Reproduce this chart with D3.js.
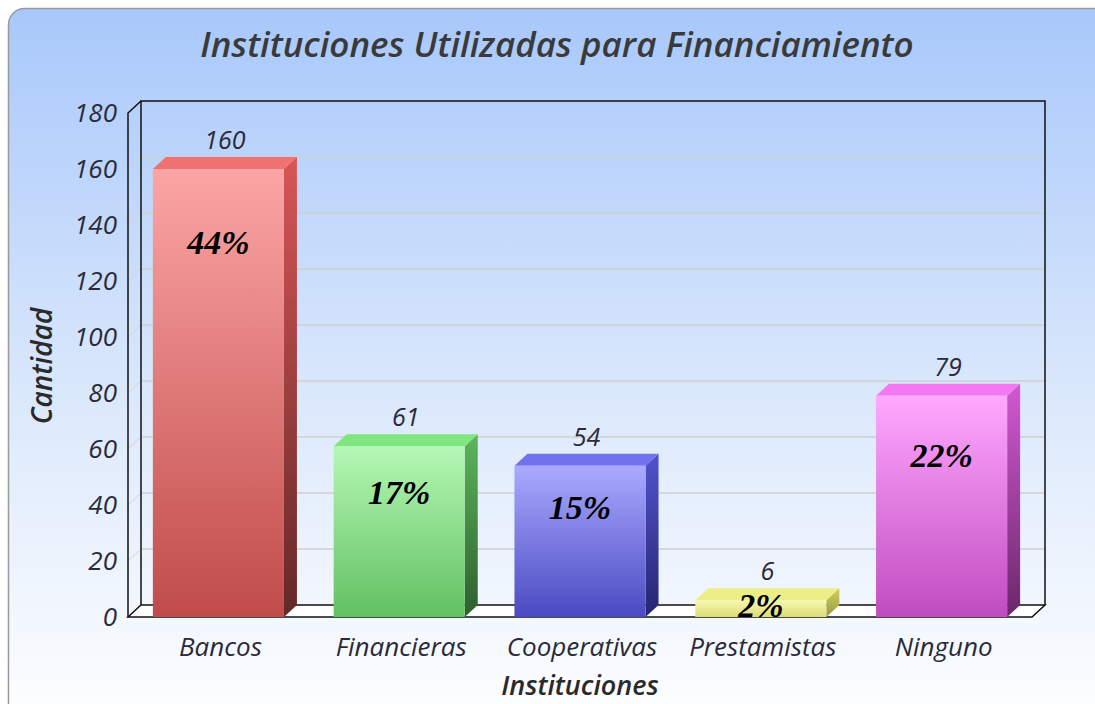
<!DOCTYPE html>
<html>
<head>
<meta charset="utf-8">
<script src="https://cdn.jsdelivr.net/npm/d3@7"></script>
<style>
  body { margin: 0; background: #fff; }
  .sans { font-family: "Open Sans", sans-serif; }
  .pct { font-family: "Liberation Serif", "Times New Roman", serif; }
</style>
</head>
<body>
<svg id="chart"></svg>
<script>
var categories = ["Bancos", "Financieras", "Cooperativas", "Prestamistas", "Ninguno"];
var values = [160, 61, 54, 6, 79];
var percents = ["44%", "17%", "15%", "2%", "22%"];
var yTicks = [0, 20, 40, 60, 80, 100, 120, 140, 160, 180];

// front, top, side colours per bar
var palette = [
	{front: ["#fca5a5", "#c04c4a"], top: "#f07272", side: ["#d85656", "#642828"]},
	{front: ["#b4f8b4", "#62c062"], top: "#80e680", side: ["#5cb65c", "#2e5e2e"]},
	{front: ["#aaaaff", "#4a4ac2"], top: "#7272ee", side: ["#5252d0", "#262670"]},
	{front: ["#f8f8b0", "#dcdc78"], top: "#eeee88", side: ["#d0d060", "#9a9a40"]},
	{front: ["#ffa8ff", "#c04cc0"], top: "#f478f4", side: ["#d258d2", "#6a286a"]}
];

var W = 1095, H = 704;
var dx = 13, dy = 12; // depth offset of the 3d box
var front = {left: 128, right: 1032, bottom: 617};
var yTopFront = 113;

var svg = d3.select("#chart").attr("width", W).attr("height", H);
var defs = svg.append("defs");

var bg = defs.append("linearGradient").attr("id", "bg").attr("x1", 0).attr("y1", 0).attr("x2", 0).attr("y2", 1);
bg.append("stop").attr("offset", "0%").attr("stop-color", "#a8c8fb");
bg.append("stop").attr("offset", "55%").attr("stop-color", "#dce9fc");
bg.append("stop").attr("offset", "100%").attr("stop-color", "#ffffff");

svg.append("rect")
	.attr("x", 8.5).attr("y", 8.5)
	.attr("width", W + 20).attr("height", H + 20)
	.attr("rx", 16)
	.attr("fill", "url(#bg)")
	.attr("stroke", "#9a9a9a")
	.attr("stroke-width", 1.5);

// scales (front plane)
var x = d3.scaleBand().domain(categories)
	.range([front.left, front.right])
	.paddingInner(0.275).paddingOuter(0.1375);
var y = d3.scaleLinear().domain([0, 180]).range([front.bottom, yTopFront]);

// back wall gridlines
var grid = svg.append("g").attr("class", "grid");
grid.selectAll(".hline")
	.data(yTicks.slice(1, -1))
	.enter().append("line")
		.attr("x1", front.left + dx).attr("x2", front.right + dx)
		.attr("y1", function(d) { return y(d) - dy; })
		.attr("y2", function(d) { return y(d) - dy; })
		.attr("stroke", "#cfcfcf").attr("stroke-width", 1.5);
grid.selectAll(".dline")
	.data(yTicks.slice(1, -1))
	.enter().append("line")
		.attr("x1", front.left).attr("x2", front.left + dx)
		.attr("y1", function(d) { return y(d); })
		.attr("y2", function(d) { return y(d) - dy; })
		.attr("stroke", "#d8d2c8").attr("stroke-width", 1);

// floor
svg.append("path")
	.attr("d", "M" + front.left + "," + front.bottom +
		"L" + (front.left + dx) + "," + (front.bottom - dy) +
		"L" + (front.right + dx) + "," + (front.bottom - dy) +
		"L" + front.right + "," + front.bottom + "Z")
	.attr("fill", "#ffffff").attr("stroke", "#111").attr("stroke-width", 1.5);

// back wall frame
svg.append("path")
	.attr("d", "M" + (front.left + dx) + "," + (front.bottom - dy) +
		"V" + (yTopFront - dy) + "H" + (front.right + dx) + "V" + (front.bottom - dy))
	.attr("fill", "none").attr("stroke", "#111").attr("stroke-width", 1.5);
svg.append("path")
	.attr("d", "M" + front.left + "," + front.bottom + "V" + yTopFront +
		"L" + (front.left + dx) + "," + (yTopFront - dy))
	.attr("fill", "none").attr("stroke", "#111").attr("stroke-width", 1.5);

// bar gradients
palette.forEach(function(p, i) {
	var g = defs.append("linearGradient").attr("id", "front" + i).attr("x1", 0).attr("y1", 0).attr("x2", 0).attr("y2", 1);
	g.append("stop").attr("offset", "0%").attr("stop-color", p.front[0]);
	g.append("stop").attr("offset", "100%").attr("stop-color", p.front[1]);
	var s = defs.append("linearGradient").attr("id", "side" + i).attr("x1", 0).attr("y1", 0).attr("x2", 0).attr("y2", 1);
	s.append("stop").attr("offset", "0%").attr("stop-color", p.side[0]);
	s.append("stop").attr("offset", "100%").attr("stop-color", p.side[1]);
});

var barData = categories.map(function(c, i) { return {cat: c, value: values[i], pct: percents[i], i: i}; });
var bars = svg.append("g").attr("class", "bars")
	.selectAll(".bar").data(barData).enter().append("g").attr("class", "bar");

bars.append("path") // side
	.attr("d", function(d) {
		var x1 = x(d.cat) + x.bandwidth(), t = y(d.value);
		return "M" + x1 + "," + t + "L" + (x1 + dx) + "," + (t - dy) +
			"L" + (x1 + dx) + "," + (front.bottom - dy) + "L" + x1 + "," + front.bottom + "Z";
	})
	.attr("fill", function(d) { return "url(#side" + d.i + ")"; });

bars.append("path") // top
	.attr("d", function(d) {
		var x0 = x(d.cat), x1 = x0 + x.bandwidth(), t = y(d.value);
		return "M" + x0 + "," + t + "L" + (x0 + dx) + "," + (t - dy) +
			"L" + (x1 + dx) + "," + (t - dy) + "L" + x1 + "," + t + "Z";
	})
	.attr("fill", function(d) { return palette[d.i].top; });

bars.append("rect") // front
	.attr("x", function(d) { return x(d.cat); })
	.attr("y", function(d) { return y(d.value); })
	.attr("width", x.bandwidth())
	.attr("height", function(d) { return front.bottom - y(d.value); })
	.attr("fill", function(d) { return "url(#front" + d.i + ")"; });

// value labels
bars.append("text")
	.attr("class", "sans")
	.attr("x", function(d) { return x(d.cat) + x.bandwidth() / 2 + dx / 2; })
	.attr("y", function(d) { return y(d.value) - dy - 8; })
	.attr("text-anchor", "middle")
	.attr("font-size", 25).attr("font-style", "italic")
	.attr("fill", "#2a2a3a")
	.text(function(d) { return d.value; });

// percent labels
bars.append("text")
	.attr("class", "pct")
	.attr("x", function(d) { return x(d.cat) + x.bandwidth() / 2; })
	.attr("y", function(d) {
		var t = y(d.value), h = front.bottom - t;
		return t + Math.min(0.27 * h, 73);
	})
	.attr("dy", "0.35em")
	.attr("text-anchor", "middle")
	.attr("font-size", 34).attr("font-weight", "bold").attr("font-style", "italic")
	.attr("fill", "#000")
	.text(function(d) { return d.pct; });

// y axis labels
svg.append("g").selectAll("text")
	.data(yTicks).enter().append("text")
		.attr("class", "sans")
		.attr("x", 117)
		.attr("y", function(d) { return y(d); })
		.attr("dy", "0.35em")
		.attr("text-anchor", "end")
		.attr("font-size", 26).attr("font-style", "italic")
		.attr("fill", "#2a2a3a")
		.text(function(d) { return d; });

// x axis labels
svg.append("g").selectAll("text")
	.data(categories).enter().append("text")
		.attr("class", "sans")
		.attr("x", function(d) { return x(d) + x.bandwidth() / 2 + 2; })
		.attr("y", 647)
		.attr("dy", "0.35em")
		.attr("text-anchor", "middle")
		.attr("font-size", 26).attr("font-style", "italic")
		.attr("fill", "#2a2a3a")
		.text(function(d) { return d; });

// titles
svg.append("text")
	.attr("class", "sans")
	.attr("x", 557).attr("y", 45).attr("dy", "0.35em")
	.attr("text-anchor", "middle")
	.attr("font-size", 35).attr("font-weight", 600).attr("font-style", "italic")
	.attr("fill", "#3a3a3a")
	.text("Instituciones Utilizadas para Financiamiento");

svg.append("text")
	.attr("class", "sans")
	.attr("x", 580).attr("y", 686).attr("dy", "0.35em")
	.attr("text-anchor", "middle")
	.attr("font-size", 27).attr("font-weight", 600).attr("font-style", "italic")
	.attr("fill", "#2a2a2a")
	.text("Instituciones");

svg.append("text")
	.attr("class", "sans")
	.attr("transform", "translate(42,366) rotate(-90)")
	.attr("dy", "0.35em")
	.attr("text-anchor", "middle")
	.attr("font-size", 28).attr("font-weight", 600).attr("font-style", "italic")
	.attr("fill", "#2a2a2a")
	.text("Cantidad");
</script>
</body>
</html>
